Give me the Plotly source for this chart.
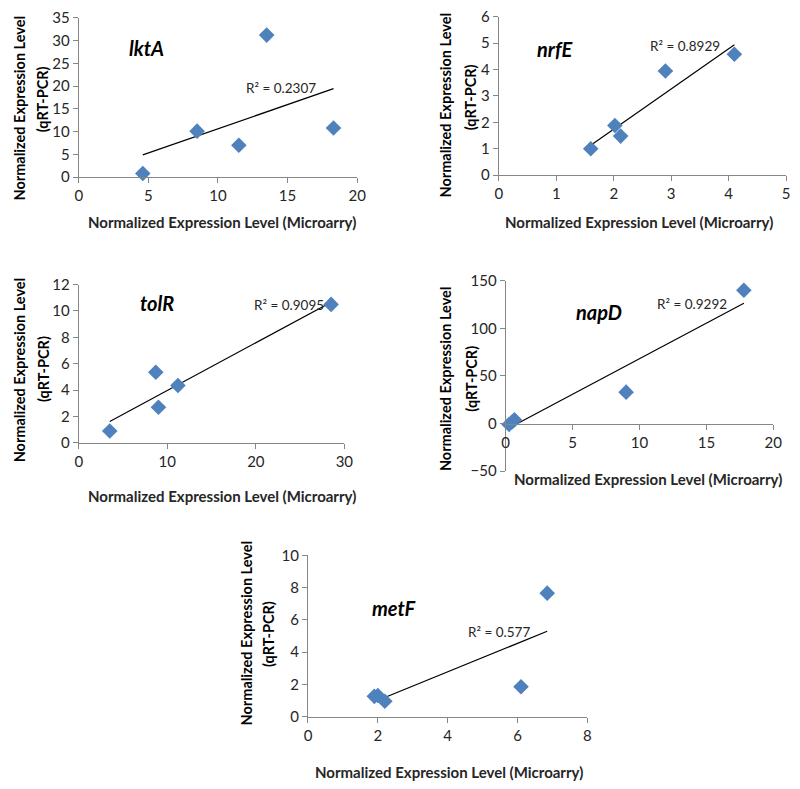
import numpy as np
import plotly.graph_objects as go

W, H = 800, 789

# ---------------- data ----------------
genes = ["lktA", "nrfE", "tolR", "napD", "metF"]
r2_labels = ["R² = 0.2307", "R² = 0.8929", "R² = 0.9095", "R² = 0.9292", "R² = 0.577"]

lktA_x = [4.6, 8.5, 11.5, 13.5, 18.3]
lktA_y = [0.8, 10.1, 7.0, 31.2, 10.8]

nrfE_x = [1.6, 2.02, 2.12, 2.9, 4.1]
nrfE_y = [1.0, 1.88, 1.48, 3.95, 4.58]

tolR_x = [3.5, 8.7, 9.0, 11.2, 28.5]
tolR_y = [0.9, 5.35, 2.7, 4.35, 10.5]

napD_x = [0.25, 0.5, 0.65, 9.0, 17.8]
napD_y = [-1.0, 2.0, 4.0, 33.0, 140.0]

metF_x = [1.9, 2.0, 2.2, 6.1, 6.85]
metF_y = [1.25, 1.3, 0.95, 1.85, 7.65]

x_ranges = [[0, 20], [0, 5], [0, 30], [0, 20], [0, 8]]
y_ranges = [[0, 35], [0, 6], [0, 12], [-50, 150], [0, 10]]
x_dticks = [5, 1, 10, 5, 2]
y_dticks = [5, 1, 2, 50, 2]

x_title = "Normalized Expression Level (Microarry)"
y_title_1 = "Normalized Expression Level"
y_title_2 = "(qRT-PCR)"

# ---------------- layout (pixel geometry) ----------------
def px(x):
    return x / W

def py(y):
    return 1 - y / H

# plot area boxes: left, right, top, bottom (pixels)
boxes = [
    (76, 359, 8, 171),
    (503, 795, 7, 169),
    (76, 346, 281, 443),
    (510, 782, 277, 472),
    (309, 593, 558, 723),
]
gene_pos = [(145, 39), (560, 40), (156, 300), (605, 309), (396, 612)]
r2_pos = [(282, 80), (692, 37), (290, 302), (699, 301), (503, 637)]
xtitle_pos = [(222, 217), (645, 217), (222, 497), (655, 480), (452, 780)]
ytitle_pos = [((16, 100), (40, 91)), ((449, 97), (475, 89)),
              ((16, 368), (40, 367)), ((449, 377), (475, 377)),
              ((246, 638), (269, 639))]

FONT = "Lato"
AXIS_COLOR = "#868686"
TEXT_COLOR = "#262626"
MARKER_COLOR = "#4F81BD"

xs = [lktA_x, nrfE_x, tolR_x, napD_x, metF_x]
ys = [lktA_y, nrfE_y, tolR_y, napD_y, metF_y]

fig = go.Figure()
annotations = []
layout_axes = {}

for i in range(5):
    n = i + 1
    xa = "x" if n == 1 else f"x{n}"
    ya = "y" if n == 1 else f"y{n}"
    l, r, t, b = boxes[i]

    x = np.array(xs[i])
    y = np.array(ys[i])
    slope, intercept = np.polyfit(x, y, 1)
    tx = np.array([x.min(), x.max()])
    ty = slope * tx + intercept

    fig.add_trace(go.Scatter(x=tx, y=ty, mode="lines",
                             line=dict(color="#000000", width=1.2),
                             xaxis=xa, yaxis=ya, showlegend=False,
                             cliponaxis=False, hoverinfo="skip"))
    fig.add_trace(go.Scatter(x=x, y=y, mode="markers",
                             marker=dict(symbol="diamond", size=12, color=MARKER_COLOR,
                                         line=dict(width=0)),
                             xaxis=xa, yaxis=ya, showlegend=False, cliponaxis=False))

    common = dict(showgrid=False, zeroline=False, showline=True, linecolor=AXIS_COLOR,
                  linewidth=1, ticks="outside", ticklen=5, tickcolor=AXIS_COLOR,
                  tickfont=dict(family=FONT, size=15, color=TEXT_COLOR),
                  fixedrange=True, tick0=0)
    xaxis = dict(domain=[px(l), px(r)], range=x_ranges[i], dtick=x_dticks[i], **common)
    yaxis = dict(domain=[py(b), py(t)], range=y_ranges[i], dtick=y_dticks[i], **common)
    if y_ranges[i][0] < 0:
        # x axis crosses the y axis at zero
        frac = (0 - y_ranges[i][0]) / (y_ranges[i][1] - y_ranges[i][0])
        pos = py(b) + frac * (py(t) - py(b))
        xaxis.update(anchor="free", position=pos)
    else:
        xaxis.update(anchor=ya)
    yaxis.update(anchor=xa)

    layout_axes["xaxis" if n == 1 else f"xaxis{n}"] = xaxis
    layout_axes["yaxis" if n == 1 else f"yaxis{n}"] = yaxis

    gx, gy = gene_pos[i]
    annotations.append(dict(x=px(gx), y=py(gy), xref="paper", yref="paper",
                            text=f"<b><i>{genes[i]}</i></b>", showarrow=False,
                            font=dict(family=FONT, size=20, color="#000000"),
                            xanchor="center", yanchor="middle"))
    rx, ry = r2_pos[i]
    annotations.append(dict(x=px(rx), y=py(ry), xref="paper", yref="paper",
                            text=r2_labels[i], showarrow=False,
                            font=dict(family=FONT, size=13.5, color=TEXT_COLOR),
                            xanchor="center", yanchor="middle"))
    ttx, tty = xtitle_pos[i]
    annotations.append(dict(x=px(ttx), y=py(tty), xref="paper", yref="paper",
                            text=f"<b>{x_title}</b>", showarrow=False,
                            font=dict(family=FONT, size=15, color=TEXT_COLOR),
                            xanchor="center", yanchor="middle"))
    (y1x, y1y), (y2x, y2y) = ytitle_pos[i]
    annotations.append(dict(x=px(y1x), y=py(y1y), xref="paper", yref="paper",
                            text=f"<b>{y_title_1}</b>", showarrow=False, textangle=-90,
                            font=dict(family=FONT, size=14.5, color="#000000"),
                            xanchor="center", yanchor="middle"))
    annotations.append(dict(x=px(y2x), y=py(y2y), xref="paper", yref="paper",
                            text=f"<b>{y_title_2}</b>", showarrow=False, textangle=-90,
                            font=dict(family=FONT, size=14.5, color="#000000"),
                            xanchor="center", yanchor="middle"))

fig.update_layout(width=W, height=H, margin=dict(l=0, r=0, t=0, b=0),
                  paper_bgcolor="white", plot_bgcolor="white",
                  annotations=annotations, showlegend=False, **layout_axes)

# remove the browser's default 8px body margin so the figure fills the window exactly
fig.write_html("out.html",
               config={"displayModeBar": False},
               post_script="document.body.style.margin='0';document.body.style.overflow='hidden';")
